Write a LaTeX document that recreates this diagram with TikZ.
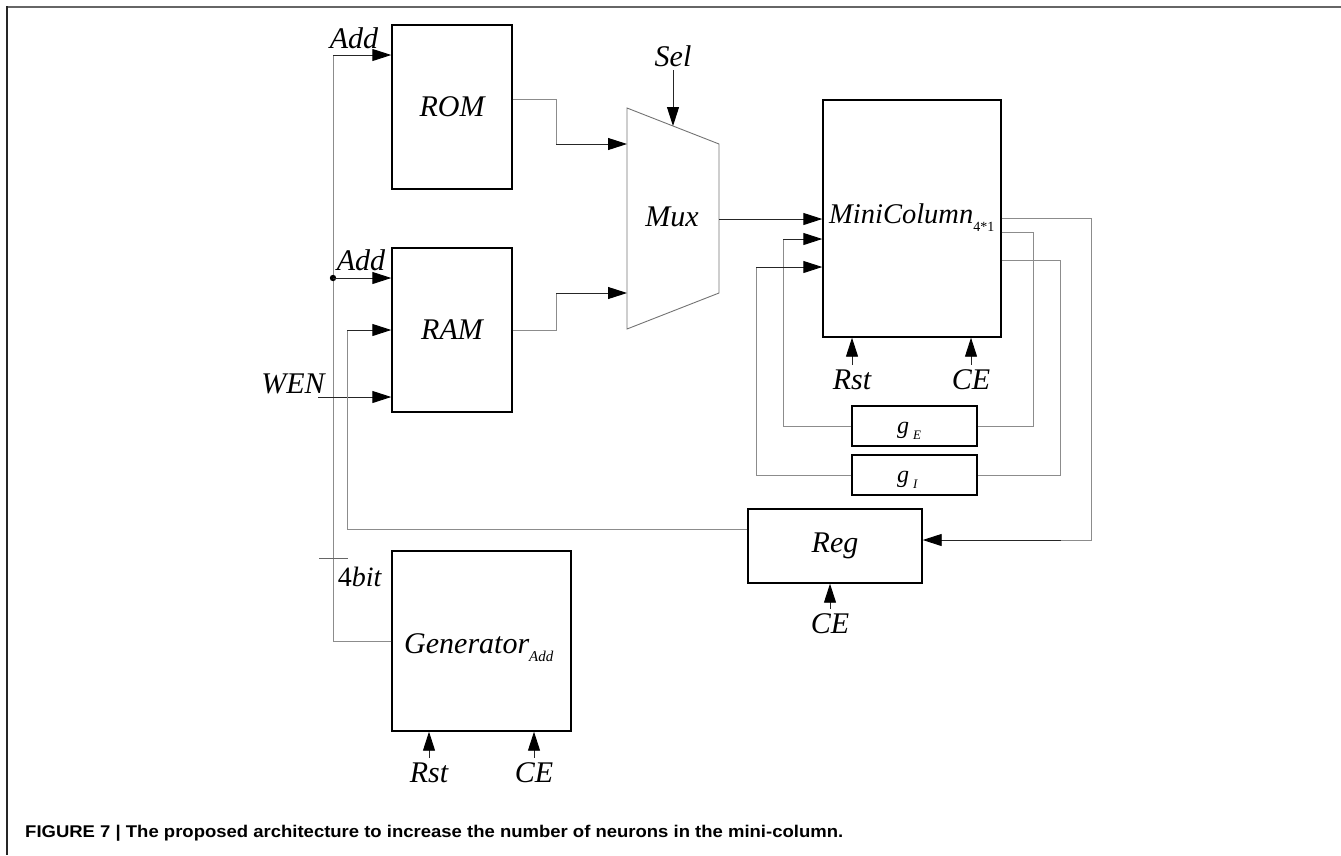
\documentclass[tikz,border=0pt]{standalone}
\usepackage{fontspec}
\setmainfont{Liberation Serif}
\setsansfont{Liberation Sans}
\usepackage{graphicx}
\usetikzlibrary{arrows.meta}

\tikzset{
  blk/.style={draw=black, line width=1.4pt, inner sep=0pt},
  wire/.style={draw=black!45, line width=0.9pt},
  sig/.style={draw=black!85, line width=0.9pt},
  lbl/.style={inner sep=0pt, font=\fontsize{30}{30}\selectfont\itshape},
}

\begin{document}
\begin{tikzpicture}[x=1pt, y=-1pt, >={Triangle[length=19pt,width=12pt,color=black]}]
  \useasboundingbox (0,0) rectangle (1341,855);
  % Frame
  \draw[black!60, line width=2pt] (7,6.5) -- (1341,6.5);
  \draw[black!85, line width=1.5pt] (7,6) -- (7,855);
  % Blocks
  \node[blk, lbl, minimum width=120pt, minimum height=164pt] (rom) at (452,107) {ROM};
  \node[blk, lbl, minimum width=120pt, minimum height=164pt] (ram) at (452,330) {RAM};
  \node[blk, minimum width=178pt, minimum height=237pt] (mc) at (912,218.5) {};
  \node[blk, minimum width=125pt, minimum height=40pt] (ge) at (914.5,426) {};
  \node[blk, minimum width=125pt, minimum height=40pt] (gi) at (914.5,475) {};
  \node[blk, lbl, minimum width=174pt, minimum height=74pt] (reg) at (835,546) {Reg};
  \node[blk, minimum width=179pt, minimum height=180pt] (gen) at (481.5,641) {};
  % Mux
  \draw[black!55, line width=0.9pt] (627,108) -- (719,144) -- (719,293) -- (627,329) -- cycle;
  \coordinate (muxa) at (627,144);
  \coordinate (muxb) at (627,293);
  \coordinate (muxo) at (719,219);
  \coordinate (muxs) at (673,126);
  \node[lbl, anchor=base] (mux) at (672,226) {Mux};
  % Block texts
  \node[lbl, font=\fontsize{28.5}{28.5}\selectfont\itshape, anchor=base west] (mctxt) at (829,223) {MiniColumn\raisebox{-8pt}{\fontsize{14}{14}\selectfont\upshape 4*1}};
  \node[lbl, anchor=base west] (gentxt) at (404,653) {Generator\raisebox{-8pt}{\fontsize{15}{15}\selectfont Add}};
  \node[inner sep=0pt, anchor=base west, font=\itshape] (getxt) at (897,433) {\fontsize{24}{24}\selectfont g\hspace{4pt}\raisebox{-6pt}{\fontsize{13}{13}\selectfont E}};
  \node[inner sep=0pt, anchor=base west, font=\itshape] (gitxt) at (897,482) {\fontsize{24}{24}\selectfont g\hspace{4pt}\raisebox{-6pt}{\fontsize{13}{13}\selectfont I}};
  % Signal labels
  \node[lbl, anchor=base] (add1) at (354,48) {Add};
  \node[lbl, anchor=base] (add2) at (361,270) {Add};
  \node[lbl, anchor=base] (wen) at (293,393) {WEN};
  \node[lbl, anchor=base] (sel) at (673,66) {Sel};
  \node[inner sep=0pt, anchor=base, font=\fontsize{28}{28}\selectfont] (bits) at (360,586) {4\textit{bit}};
  \foreach \nm/\x/\y/\t in {rsta/852/389/Rst, cea/971/389/CE, ceb/830/633/CE, rstb/429/782/Rst, cec/534/782/CE}
    \node[lbl, anchor=base] (\nm) at (\x,\y) {\t};
  % Control inputs
  \foreach \nm/\b in {rsta/mc, cea/mc, ceb/reg, rstb/gen, cec/gen}
    \draw[sig,->] ([yshift=4pt]\nm.north) -- (\nm |- \b.south);
  \draw[sig,->] ([yshift=-4pt]sel.base) -- (muxs);
  % Address bus
  \coordinate (bust) at (333,55);
  \coordinate (busj) at (333,278);
  \draw[wire] (gen.west) -- (gen.west -| bust) -- (bust);
  \draw[sig,->] (bust) -- (bust -| rom.west);
  \fill (busj) circle (3.2pt);
  \draw[sig,->] (busj) -- (busj -| ram.west);
  \draw[wire, black!60] (319,558) -- (348,558);
  % Write enable
  \coordinate (wenin) at (318,397);
  \draw[sig,->] (wenin) -- (wenin -| ram.west);
  % Memories to mux
  \draw[wire] ([yshift=8pt]rom.east) -| ([xshift=-71pt]muxa);
  \draw[sig,->] ([xshift=-71pt]muxa) -- (muxa);
  \draw[wire] (ram.east) -| ([xshift=-71pt]muxb);
  \draw[sig,->] ([xshift=-71pt]muxb) -- (muxb);
  \draw[sig,->] (muxo) -- (muxo -| mc.west);
  % Conductance feedback
  \coordinate (fbe) at (783,239);
  \coordinate (fbi) at (756,267);
  \draw[wire] (ge.west) -| (fbe);
  \draw[sig,->] (fbe) -- (fbe -| mc.west);
  \draw[wire] (gi.west) -| (fbi);
  \draw[sig,->] (fbi) -- (fbi -| mc.west);
  \draw[wire] ([yshift=-13.5pt]mc.east) -| ([xshift=56pt]ge.east) -- (ge.east);
  \draw[wire] ([yshift=-41.5pt]mc.east) -| ([xshift=83pt]gi.east) -- (gi.east);
  % Register loop
  \draw[wire] (mc.east) -| ([xshift=169pt,yshift=6pt]reg.east) -- ([xshift=138pt,yshift=6pt]reg.east);
  \draw[sig,->] ([xshift=138pt,yshift=6pt]reg.east) -- ([yshift=6pt]reg.east);
  \draw[wire] ([yshift=17pt]reg.west) -| ([xshift=-44pt]ram.west);
  \draw[sig,->] ([xshift=-44pt]ram.west) -- (ram.west);
  % Caption
  \node[anchor=base west, inner sep=0pt, font=\sffamily\bfseries\fontsize{16}{16}\selectfont] (caption) at (25,837)
    {\resizebox{818pt}{12.3pt}{FIGURE 7 | The proposed architecture to increase the number of neurons in the mini-column.}};
\end{tikzpicture}
\end{document}
